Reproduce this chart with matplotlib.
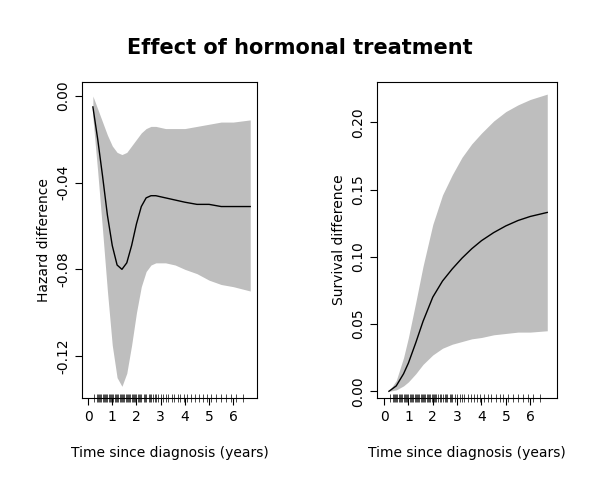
import matplotlib.pyplot as plt
import numpy as np

# hazard difference (left panel)
t_h = [0.2, 0.4, 0.6, 0.8, 1.0, 1.2, 1.4, 1.6, 1.8, 2.0, 2.2, 2.4, 2.6, 2.8, 3.2, 3.6, 4.0, 4.5, 5.0, 5.5, 6.0, 6.7]
haz = [-0.005, -0.020, -0.037, -0.055, -0.069, -0.078, -0.080, -0.077, -0.069, -0.059, -0.051, -0.047, -0.046, -0.046, -0.047, -0.048, -0.049, -0.050, -0.050, -0.051, -0.051, -0.051]
haz_hi = [0.000, -0.006, -0.012, -0.018, -0.023, -0.026, -0.027, -0.026, -0.023, -0.020, -0.017, -0.015, -0.014, -0.014, -0.015, -0.015, -0.015, -0.014, -0.013, -0.012, -0.012, -0.011]
haz_lo = [-0.010, -0.035, -0.062, -0.090, -0.115, -0.130, -0.134, -0.128, -0.115, -0.100, -0.088, -0.081, -0.078, -0.077, -0.077, -0.078, -0.080, -0.082, -0.085, -0.087, -0.088, -0.090]

# survival difference (right panel)
t_s = [0.2, 0.5, 0.8, 1.0, 1.3, 1.6, 2.0, 2.4, 2.8, 3.2, 3.6, 4.0, 4.5, 5.0, 5.5, 6.0, 6.7]
surv = [0.000, 0.004, 0.013, 0.021, 0.036, 0.052, 0.070, 0.082, 0.091, 0.099, 0.106, 0.112, 0.118, 0.123, 0.127, 0.130, 0.133]
surv_hi = [0.000, 0.008, 0.025, 0.040, 0.066, 0.093, 0.124, 0.146, 0.161, 0.174, 0.184, 0.192, 0.201, 0.208, 0.213, 0.217, 0.221]
surv_lo = [0.000, 0.001, 0.004, 0.007, 0.013, 0.020, 0.027, 0.032, 0.035, 0.037, 0.039, 0.040, 0.042, 0.043, 0.044, 0.044, 0.045]

# event times for rug
rug = [0.25, 0.35, 0.4, 0.45, 0.5, 0.55, 0.6, 0.65, 0.7, 0.75, 0.8, 0.85, 0.9, 0.95, 1.0, 1.05,
       1.1, 1.15, 1.2, 1.25, 1.3, 1.35, 1.4, 1.45, 1.5, 1.55, 1.6, 1.65, 1.7, 1.75, 1.8, 1.85,
       1.9, 1.95, 2.0, 2.05, 2.1, 2.15, 2.2, 2.3, 2.35, 2.4, 2.5, 2.55, 2.6, 2.7, 2.75, 2.8,
       2.9, 3.0, 3.1, 3.2, 3.3, 3.45, 3.55, 3.7, 3.8, 3.95, 4.1, 4.25, 4.4, 4.6, 4.75, 4.9,
       5.1, 5.3, 5.5, 5.7, 5.9, 6.1, 6.4]

fig = plt.figure(figsize=(6, 5), dpi=100)
fig.suptitle('Effect of hormonal treatment', fontsize=15, fontweight='bold', y=0.925)

ax1 = fig.add_axes([82/600, 1 - 398/500, 175/600, 316/500])
ax2 = fig.add_axes([377/600, 1 - 398/500, 180/600, 316/500])

ax1.fill_between(t_h, haz_lo, haz_hi, color='#bebebe', lw=0)
ax1.plot(t_h, haz, color='black', lw=1)
ax1.set_xlim(-0.25, 6.98)
ax1.set_ylim(-0.1394, 0.0065)
ax1.set_yticks([0.0, -0.04, -0.08, -0.12])
ax1.set_yticklabels(['0.00', '-0.04', '-0.08', '-0.12'])
ax1.set_ylabel('Hazard difference')

ax2.fill_between(t_s, surv_lo, surv_hi, color='#bebebe', lw=0)
ax2.plot(t_s, surv, color='black', lw=1)
ax2.set_xlim(-0.29, 7.1)
ax2.set_ylim(-0.005, 0.230)
ax2.set_yticks([0.0, 0.05, 0.10, 0.15, 0.20])
ax2.set_yticklabels(['0.00', '0.05', '0.10', '0.15', '0.20'])
ax2.set_ylabel('Survival difference')

for ax in (ax1, ax2):
    ax.set_xticks(range(7))
    ax.set_xlabel('Time since diagnosis (years)', labelpad=16)
    ax.tick_params(direction='out', length=5, labelsize=10)
    for lbl in ax.get_yticklabels():
        lbl.set_rotation(90)
        lbl.set_va('center')
    ax.plot(rug, [0.0] * len(rug), '|', color='black', ms=6, mew=0.5,
            transform=ax.get_xaxis_transform(), clip_on=False)
    for s in ax.spines.values():
        s.set_linewidth(0.8)

fig.savefig('out.png')
